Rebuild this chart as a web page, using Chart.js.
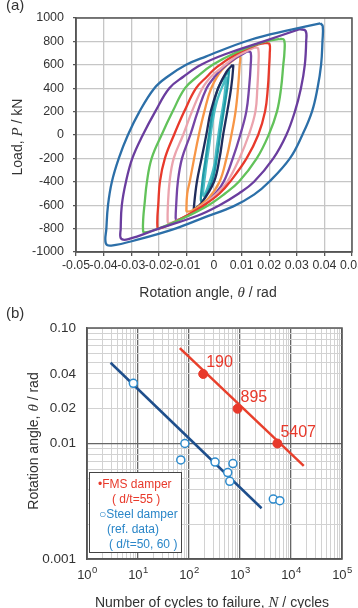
<!DOCTYPE html>
<html>
<head>
<meta charset="utf-8">
<script src="https://cdn.jsdelivr.net/npm/chart.js@4/dist/chart.umd.min.js"></script>
<style>
  body { margin: 0; background: #fff; }
  #wrap { position: relative; width: 358px; height: 608px; overflow: hidden; font-family: 'Liberation Sans', Arial, sans-serif; color: #333; }
  .abs { position: absolute; white-space: nowrap; }
  .ttl { font-size: 14px; text-align: center; }
  .rot { transform: rotate(-90deg); }
  .it { font-family: 'Liberation Serif', 'Times New Roman', serif; font-style: italic; font-size: 15px; }
  #legB { left: 89px; top: 472px; width: 93px; height: 81px; border: 1px solid #444; background: #fff; font-size: 12px; line-height: 15px; padding-top: 4px; box-sizing: border-box; }
  #legB div { position: relative; }
</style>
</head>
<body>
<div id="wrap">
  <canvas id="chartA" width="358" height="300" style="position:absolute;left:0;top:0"></canvas>
  <canvas id="chartB" width="358" height="308" style="position:absolute;left:0;top:300px"></canvas>

  <div class="abs" style="left:6px;top:-4px;font-size:15px">(a)</div>
  <div class="abs" style="left:6px;top:304px;font-size:15px">(b)</div>

  <div class="abs ttl" style="left:58px;top:283px;width:300px;line-height:18px">Rotation angle, <span class="it">θ</span> / rad</div>
  <div class="abs ttl rot" style="left:-83px;top:128px;width:200px;line-height:18px">Load, <span class="it">P</span> / kN</div>

  <div class="abs ttl rot" style="left:-67px;top:432px;width:200px;line-height:18px">Rotation angle, <span class="it">θ</span> / rad</div>
  <div class="abs ttl" style="left:62px;top:593px;width:300px;line-height:18px">Number of cycles to failure, <span class="it">N</span> / cycles</div>

  <div id="legB" class="abs">
    <div style="left:8px;color:#e8392b">•FMS damper</div>
    <div style="left:22px;color:#e8392b">( d/t=55 )</div>
    <div style="left:9px;color:#2a86c8">○Steel damper</div>
    <div style="left:17px;color:#2a86c8">(ref. data)</div>
    <div style="left:19px;color:#2a86c8">( d/t=50, 60 )</div>
  </div>
</div>

<script>
// ---- (a) hysteresis loops: [rotation angle (rad), load (kN)] ----
const loopTeal2 = [[0.0045,500],[0.0036,300],[0.0022,100],[0.001,-100],[-0.0003,-300],[-0.0038,-520],
  [-0.003,-300],[-0.0018,-100],[-0.0006,100],[0.0012,300],[0.0045,500]];
const loopTeal = [[0.0055,560],[0.0048,400],[0.0035,200],[0.0022,0],[0.001,-200],[-0.0008,-400],[-0.0045,-570],
  [-0.0042,-400],[-0.003,-200],[-0.0018,0],[-0.0005,200],[0.0015,400],[0.0055,560]];
const loopNavy = [[0.0068,600],[0.007,590],[0.0062,400],[0.0048,200],[0.0033,0],[0.002,-200],[0,-400],[-0.0045,-580],[-0.0072,-635],
  [-0.0073,-620],[-0.0062,-400],[-0.0045,-200],[-0.0028,0],[-0.0012,200],[0.0015,400],[0.0045,540],[0.0068,600]];
const loopOrange = [[0.0088,672],[0.0095,665],[0.0093,600],[0.0087,400],[0.0078,200],[0.0063,0],[0.0045,-200],[0.002,-400],[-0.002,-540],[-0.0075,-640],[-0.0098,-655],
  [-0.01,-640],[-0.0097,-500],[-0.0088,-400],[-0.0072,-200],[-0.0055,0],[-0.0035,200],[-0.001,400],[0.003,560],[0.0088,672]];
const loopViolet = [[0.0122,715],[0.0133,705],[0.0133,600],[0.0127,400],[0.0117,200],[0.0095,0],[0.0068,-200],[0.0035,-400],[0.0005,-500],[-0.003,-590],[-0.008,-670],[-0.0125,-720],[-0.0137,-724],
  [-0.0139,-710],[-0.0137,-600],[-0.0131,-400],[-0.0116,-200],[-0.0086,0],[-0.0059,200],[-0.0027,400],[0,490],[0.003,570],[0.008,660],[0.0122,715]];
const loopPink = [[0.0148,748],[0.016,740],[0.0161,600],[0.0157,400],[0.015,200],[0.0126,0],[0.0092,-200],[0.0048,-400],[0.001,-500],[-0.003,-580],[-0.009,-680],[-0.0145,-742],[-0.0165,-753],
  [-0.0168,-738],[-0.0167,-600],[-0.0161,-400],[-0.0146,-200],[-0.0112,0],[-0.008,200],[-0.0042,400],[-0.001,500],[0.002,560],[0.008,670],[0.0135,735],[0.0148,748]];
const loopRed = [[0.0186,788],[0.0201,778],[0.0202,700],[0.02,600],[0.0195,400],[0.0185,200],[0.016,0],[0.0118,-200],[0.0058,-400],[0.002,-500],[-0.003,-590],[-0.01,-690],[-0.017,-775],[-0.0202,-800],
  [-0.0205,-785],[-0.0205,-700],[-0.0202,-600],[-0.0196,-400],[-0.0178,-200],[-0.0145,0],[-0.0108,200],[-0.0065,400],[-0.0025,500],[0.001,580],[0.008,690],[0.015,765],[0.0186,788]];
const loopGreen = [[0.0238,822],[0.0254,812],[0.0255,700],[0.0251,600],[0.0243,400],[0.0228,200],[0.0198,0],[0.0155,-200],[0.009,-400],[0.004,-500],[-0.002,-600],[-0.011,-710],[-0.021,-808],[-0.0252,-833],
  [-0.0257,-815],[-0.0256,-700],[-0.0252,-600],[-0.0243,-400],[-0.0226,-200],[-0.019,0],[-0.015,200],[-0.0105,400],[-0.006,500],[-0.0005,600],[0.008,705],[0.018,795],[0.0238,822]];
const loopPurple = [[0.031,905],[0.0332,890],[0.0334,800],[0.0329,600],[0.0315,400],[0.0293,200],[0.0262,0],[0.0215,-200],[0.0145,-400],[0.009,-500],[0.002,-600],[-0.006,-690],[-0.02,-800],[-0.031,-890],
  [-0.0337,-885],[-0.0338,-800],[-0.0334,-600],[-0.0319,-400],[-0.0296,-200],[-0.0258,0],[-0.0213,200],[-0.0162,400],[-0.011,500],[-0.0047,600],[0.004,690],[0.018,800],[0.031,905]];
const loopBlue = [[0.0385,955],[0.0394,930],[0.0393,800],[0.0388,600],[0.0375,400],[0.0355,200],[0.032,0],[0.0275,-200],[0.02,-400],[0.0145,-510],[0.007,-610],[-0.003,-700],[-0.014,-800],[-0.027,-890],[-0.0372,-945],
  [-0.0392,-925],[-0.039,-800],[-0.0384,-600],[-0.037,-400],[-0.0345,-200],[-0.0312,0],[-0.027,200],[-0.0216,400],[-0.017,496],[-0.0101,600],[-0.003,670],[0.013,812],[0.028,900],[0.0385,955]];

const loopsA = [loopBlue, loopPurple, loopGreen, loopRed, loopPink, loopViolet, loopOrange, loopNavy, loopTeal, loopTeal2];
const loopColors = ['#2c6fa8', '#6a3d9e', '#62c25a', '#e8392b', '#eba4ae', '#7545a6', '#f79646', '#1f2d5c', '#1f9aa6', '#49bcc4'];

const xTicksA = [-0.05, -0.04, -0.03, -0.02, -0.01, 0, 0.01, 0.02, 0.03, 0.04, 0.05];
const xLabelsA = ['-0.05', '-0.04', '-0.03', '-0.02', '-0.01', '0', '0.01', '0.02', '0.03', '0.04', '0.05'];
const yTicksA = [-1000, -800, -600, -400, -200, 0, 200, 400, 600, 800, 1000];

// ---- (b) fatigue data: cycles to failure N, rotation angle ----
const fmsN = [190, 895, 5407];
const fmsTheta = [0.04, 0.02, 0.01];
const fmsFitN = [66, 17800];
const fmsFitTheta = [0.067, 0.0064];
const steelN = [8.1, 83, 69, 324, 727, 575, 630, 4500, 6040];
const steelTheta = [0.0332, 0.01, 0.0072, 0.0069, 0.0067, 0.0056, 0.0047, 0.0033, 0.0032];
const steelFitN = [2.9, 2650];
const steelFitTheta = [0.05, 0.00275];

const xDecadesB = [1, 10, 100, 1000, 10000, 100000];
const xExpB = ['0', '1', '2', '3', '4', '5'];
const yTicksB = [0.001, 0.01, 0.02, 0.04, 0.1];
const yLabelsB = ['0.001', '0.01', '0.02', '0.04', '0.10'];

const FONT = "'Liberation Sans', Arial, sans-serif";
const pair = (xs, ys) => xs.map((x, i) => ({ x: x, y: ys[i] }));

const framePlugin = {
  id: 'frame',
  beforeDatasetsDraw(chart) {
    const a = chart.chartArea, c = chart.ctx;
    c.save();
    c.strokeStyle = '#555';
    c.lineWidth = 1.5;
    c.strokeRect(a.left, a.top, a.right - a.left, a.bottom - a.top);
    c.restore();
  }
};

// ---------- chart (a) ----------
new Chart(document.getElementById('chartA'), {
  type: 'scatter',
  data: {
    datasets: loopsA.map((pts, i) => ({
      data: pts.map(p => ({ x: p[0], y: p[1] })),
      showLine: true,
      borderColor: loopColors[i],
      borderWidth: 2.3,
      pointRadius: 0,
      tension: 0.4,
      fill: false
    }))
  },
  options: {
    responsive: false,
    animation: false,
    layout: { padding: { left: 0, right: 6, top: 18, bottom: 0 } },
    plugins: { legend: { display: false }, tooltip: { enabled: false } },
    scales: {
      x: {
        type: 'linear', min: -0.05, max: 0.05,
        afterBuildTicks: s => { s.ticks = xTicksA.map(v => ({ value: v })); },
        ticks: { autoSkip: false, maxRotation: 0, padding: 2, color: '#333', font: { family: FONT, size: 12.3 },
          callback: (v, i) => xLabelsA[i] },
        grid: { color: '#c6c6c6', lineWidth: 1.3, tickLength: 4, tickColor: '#555' },
        border: { color: '#555', width: 1.5 },
        afterFit: s => { s.height = 48; s.paddingLeft = 0; s.paddingRight = 0; }
      },
      y: {
        type: 'linear', min: -1000, max: 1000,
        afterBuildTicks: s => { s.ticks = yTicksA.map(v => ({ value: v })); },
        ticks: { autoSkip: false, padding: 9, color: '#333', font: { family: FONT, size: 12.5 },
          callback: v => String(v) },
        grid: { color: '#c6c6c6', lineWidth: 1.3, tickLength: 3, tickColor: '#555' },
        border: { color: '#555', width: 1.5 },
        afterFit: s => { s.width = 76; s.paddingTop = 0; s.paddingBottom = 0; }
      }
    }
  },
  plugins: [framePlugin]
});

// ---------- chart (b) ----------
const isDecade = v => Math.abs(Math.log10(v) - Math.round(Math.log10(v))) < 1e-6;
const logGrid = (lo, hi) => {
  const out = [];
  for (let k = lo; k < hi; k++) for (let m = 1; m < 10; m++) out.push(Number((m * Math.pow(10, k)).toPrecision(3)));
  out.push(Math.pow(10, hi));
  return out;
};

const labelsPlugin = {
  id: 'bLabels',
  afterDatasetsDraw(chart) {
    const c = chart.ctx, xs = chart.scales.x, ys = chart.scales.y;
    c.save();
    c.fillStyle = '#e8392b';
    c.font = '16px ' + FONT;
    c.textBaseline = 'middle';
    fmsN.forEach((n, i) => {
      c.fillText(String(n), xs.getPixelForValue(n) + 3, ys.getPixelForValue(fmsTheta[i]) - 11);
    });
    // x tick labels with superscript exponents
    c.fillStyle = '#333';
    c.textBaseline = 'alphabetic';
    const base = chart.chartArea.bottom + 20;
    xDecadesB.forEach((v, i) => {
      const px = xs.getPixelForValue(v);
      c.font = '13px ' + FONT;
      const w1 = c.measureText('10').width;
      c.font = '9.5px ' + FONT;
      const w2 = c.measureText(xExpB[i]).width;
      const left = Math.min(px - (w1 + w2) / 2, 358 - w1 - w2 - 1);
      c.font = '13px ' + FONT;
      c.fillText('10', left, base);
      c.font = '9.5px ' + FONT;
      c.fillText(xExpB[i], left + w1 + 0.5, base - 6);
    });
    c.restore();
  }
};

new Chart(document.getElementById('chartB'), {
  type: 'scatter',
  data: {
    datasets: [
      { data: pair(fmsN, fmsTheta), pointRadius: 4.5, pointBackgroundColor: '#e8392b', pointBorderColor: '#e8392b', order: 0 },
      { data: pair(steelN, steelTheta), pointRadius: 4, pointBackgroundColor: '#fff', pointBorderColor: '#2e8bcc', pointBorderWidth: 1.5, order: 1 },
      { data: pair(fmsFitN, fmsFitTheta), showLine: true, borderColor: '#e8402c', borderWidth: 2.5, pointRadius: 0, order: 2 },
      { data: pair(steelFitN, steelFitTheta), showLine: true, borderColor: '#1f4f8c', borderWidth: 2.5, pointRadius: 0, order: 3 }
    ]
  },
  options: {
    responsive: false,
    animation: false,
    layout: { padding: { left: 0, right: 16, top: 28, bottom: 0 } },
    plugins: { legend: { display: false }, tooltip: { enabled: false } },
    scales: {
      x: {
        type: 'logarithmic', min: 1, max: 100000,
        afterBuildTicks: s => { s.ticks = logGrid(0, 5).map(v => ({ value: v })); },
        ticks: { autoSkip: false, maxRotation: 0, callback: () => '' },
        grid: { color: c => isDecade(c.tick.value) ? '#666' : '#d2d2d2', lineWidth: c => isDecade(c.tick.value) ? 1.3 : 1, drawTicks: false },
        border: { color: '#555', width: 1.5 },
        afterFit: s => { s.height = 49; s.paddingLeft = 0; s.paddingRight = 0; }
      },
      y: {
        type: 'logarithmic', min: 0.001, max: 0.1,
        afterBuildTicks: s => { s.ticks = logGrid(-3, -1).map(v => ({ value: v })); },
        ticks: { autoSkip: false, padding: 11, color: '#333', font: { family: FONT, size: 13.5 },
          callback: v => { const i = yTicksB.findIndex(t => Math.abs(t - v) < 1e-9); return i >= 0 ? yLabelsB[i] : ''; } },
        grid: { color: c => (Math.abs(c.tick.value - 0.01) < 1e-9) ? '#666' : '#d2d2d2', lineWidth: c => (Math.abs(c.tick.value - 0.01) < 1e-9) ? 1.3 : 1, drawTicks: false },
        border: { color: '#555', width: 1.5 },
        afterFit: s => { s.width = 87; s.paddingTop = 0; s.paddingBottom = 0; }
      }
    }
  },
  plugins: [framePlugin, labelsPlugin]
});
</script>
</body>
</html>
